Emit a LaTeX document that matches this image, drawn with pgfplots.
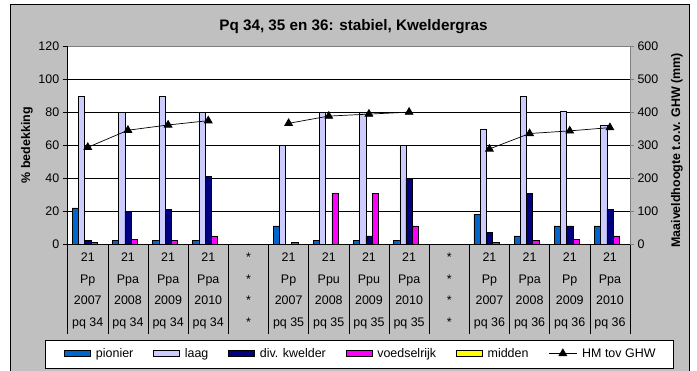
\documentclass[border=0pt]{standalone}
\usepackage{fontspec}
\setmainfont{Liberation Sans}
\usepackage{pgfplots}
\pgfplotsset{compat=1.18}
\usepackage{pgfplotstable}
\definecolor{chartbg}{HTML}{C0C0C0}
\definecolor{pionier}{HTML}{0066CC}
\definecolor{laag}{HTML}{CCCCFF}
\definecolor{divk}{HTML}{000080}
\definecolor{voedsel}{HTML}{FF00FF}
\definecolor{midden}{HTML}{FFFF00}
\definecolor{bordergray}{HTML}{808080}

\pgfplotstableread{
x pionier laag div voedsel midden hm
0 22 90 2 1 0 294
1 2 80 20 3 0 346
2 2 90 21 2 0 362
3 2 80 41 5 0 375
4 nan nan nan nan nan nan
5 11 60 0 1 0 367
6 2 80 0 31 0 389
7 2 80 5 31 0 395
8 2 60 40 11 0 401
9 nan nan nan nan nan nan
10 18 70 7 1 0 289
11 5 90 31 2 0 336
12 11 81 11 3 0 344
13 11 72 21 5 0 354
}\data

\pgfplotsset{
  barleg/.style={legend image code/.code={\draw[##1] (0bp,-3bp) rectangle (26bp,3bp);}},
  lineleg/.style={legend image code/.code={\draw[##1, sharp plot, mark repeat=2, mark phase=2] plot coordinates {(0bp,0bp) (14bp,0bp) (28bp,0bp)};}},
}

\begin{document}
\begin{tikzpicture}[x=1bp,y=1bp]
\useasboundingbox (0,0) rectangle (697,370);
\fill[white] (0,0) rectangle (697,370);
\filldraw[fill=chartbg, draw=black, line width=0.8bp] (10,-5) rectangle (689,366);
\filldraw[fill=white, draw=black, line width=0.8bp] (45,1.5) rectangle (673,29.3);
\node[font=\bfseries\fontsize{15.3}{18}\selectfont] at (353.5,343.5) {Pq 34, 35 en 36: stabiel, Kweldergras};

% category separators of the label table
\begin{axis}[at={(67.7bp,36bp)}, anchor=south west, scale only axis,
  width=562.3bp, height=90bp, xmin=-0.5, xmax=13.5, ymin=0, ymax=1,
  xtick={-0.5,0.5,...,13.5}, ytick=\empty, xticklabels={},
  xmajorgrids, major grid style={black, line width=0.6bp},
  axis line style={draw=none}, tick style={draw=none}]
\addplot[draw=none] coordinates {(0,0.5)};
\end{axis}

\begin{axis}[
  at={(67.7bp,126bp)}, anchor=south west, scale only axis,
  width=562.3bp, height=197.3bp,
  xmin=-0.5, xmax=13.5, ymin=0, ymax=120,
  axis x line*=bottom, axis y line*=left,
  axis line style={black, line width=0.8bp},
  axis background/.style={fill=white},
  ybar=0pt, bar width=0.155,
  ytick={0,20,...,120}, ymajorgrids, major grid style={black, line width=0.7bp},
  tick align=outside, major tick length=5bp,
  ytick style={black, line width=0.8bp},
  xtick={0,...,13}, xtick style={draw=none},
  xticklabels={{21\\Pp\\2007\\pq 34},{21\\Ppa\\2008\\pq 34},{21\\Ppa\\2009\\pq 34},{21\\Ppa\\2010\\pq 34},
    {*\\*\\*\\*},
    {21\\Pp\\2007\\pq 35},{21\\Ppu\\2008\\pq 35},{21\\Ppu\\2009\\pq 35},{21\\Ppa\\2010\\pq 35},
    {*\\*\\*\\*},
    {21\\Pp\\2007\\pq 36},{21\\Ppa\\2008\\pq 36},{21\\Pp\\2009\\pq 36},{21\\Ppa\\2010\\pq 36}},
  xticklabel style={align=center, font=\fontsize{12.5}{21.5}\selectfont, inner sep=0pt, yshift=-4bp},
  yticklabel style={font=\fontsize{12.5}{14}\selectfont},
  /pgf/number format/assume math mode=true,
  ylabel={\% bedekking},
  every axis y label/.style={at={(axis description cs:-0.0724,0.5)}, rotate=90, anchor=center, font=\bfseries\fontsize{12.5}{14}\selectfont},
  legend columns=6,
  legend style={draw=none, fill=none, at={(axis description cs:0.5216,-0.555)}, anchor=center,
    font=\fontsize{12.5}{14}\selectfont,
    /tikz/every odd column/.append style={column sep=3bp},
    /tikz/every even column/.append style={column sep=18bp}},
]
\addplot[fill=pionier, draw=black, line width=0.5bp, barleg] table[x=x,y=pionier]{\data};
\addlegendentry{pionier}
\addplot[fill=laag, draw=black, line width=0.5bp, barleg] table[x=x,y=laag]{\data};
\addlegendentry{laag}
\addplot[fill=divk, draw=black, line width=0.5bp, barleg] table[x=x,y=div]{\data};
\addlegendentry{div. kwelder}
\addplot[fill=voedsel, draw=black, line width=0.5bp, barleg] table[x=x,y=voedsel]{\data};
\addlegendentry{voedselrijk}
\addplot[fill=midden, draw=black, line width=0.5bp, barleg] table[x=x,y=midden]{\data};
\addlegendentry{midden}
\addlegendimage{black, line width=0.7bp, mark=triangle*, mark size=4.5bp, lineleg}
\addlegendentry{HM tov GHW}
\end{axis}

\begin{axis}[
  at={(67.7bp,126bp)}, anchor=south west, scale only axis,
  width=562.3bp, height=197.3bp,
  xmin=-0.5, xmax=13.5, ymin=0, ymax=600,
  axis y line*=right, axis x line*=top,
  axis line style={bordergray, line width=0.8bp},
  xtick=\empty,
  ytick={0,100,...,600}, tick align=outside, major tick length=4bp,
  ytick style={bordergray, line width=0.8bp},
  yticklabel style={font=\fontsize{12.5}{14}\selectfont},
  /pgf/number format/assume math mode=true,
  ylabel={Maaiveldhoogte t.o.v. GHW (mm)},
  every axis y label/.style={at={(axis description cs:1.0836,0.475)}, rotate=90, anchor=center, font=\bfseries\fontsize{12.5}{14}\selectfont},
  unbounded coords=jump,
]
\addplot[black, line width=0.7bp, mark=triangle*, mark size=4.5bp] table[x=x,y=hm]{\data};
\end{axis}
\end{tikzpicture}
\end{document}
